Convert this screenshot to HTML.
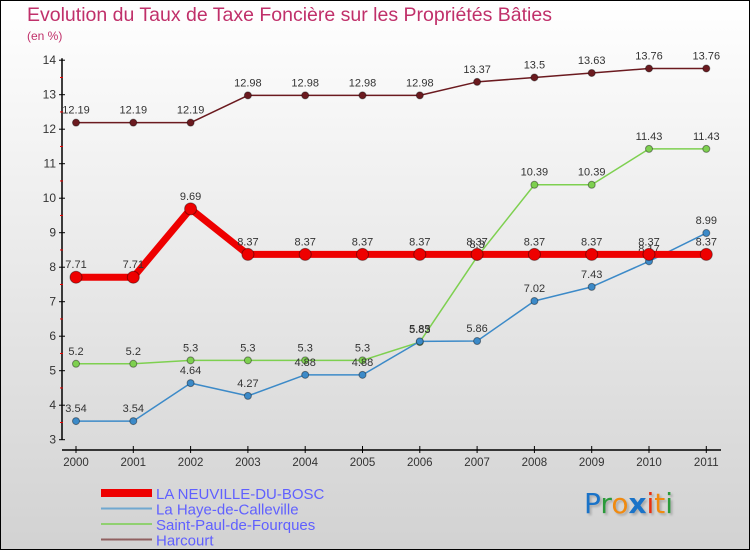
<!DOCTYPE html>
<html><head><meta charset="utf-8"><style>
body{margin:0;}
#wrap{position:relative;width:748px;height:548px;border:1px solid #000;background:linear-gradient(#ffffff,#d2d2d2);font-family:"Liberation Sans",sans-serif;overflow:hidden;}
.t{position:absolute;}
</style></head><body>
<div id="wrap">
<div class="t" style="left:26px;top:3px;font-size:19.5px;color:#c0306a;">Evolution du Taux de Taxe Foncière sur les Propriétés Bâties</div>
<div class="t" style="left:26px;top:28px;font-size:12px;color:#c0306a;">(en %)</div>
<svg id="svg" width="748" height="548" style="position:absolute;left:0;top:0"></svg>
<div class="t" style="left:583px;top:486px;font-size:28px;font-family:'DejaVu Sans',sans-serif;text-shadow:2px 2px 2px #aaa;"><span style="color:#1a73c8">P</span><span style="color:#2a9a3a">r</span><span style="color:#f08a10">o</span><span style="color:#1a73c8;font-weight:bold">x</span><span style="color:#e83010">i</span><span style="color:#f08a10">t</span><span style="color:#2a9a3a">i</span></div>
</div>
<script>
const years=[2000,2001,2002,2003,2004,2005,2006,2007,2008,2009,2010,2011];
const yTicks=[3,4,5,6,7,8,9,10,11,12,13,14];
const neuville=[7.71,7.71,9.69,8.37,8.37,8.37,8.37,8.37,8.37,8.37,8.37,8.37];
const haye=[3.54,3.54,4.64,4.27,4.88,4.88,5.85,5.86,7.02,7.43,8.17,8.99];
const stpaul=[5.2,5.2,5.3,5.3,5.3,5.3,5.83,8.3,10.39,10.39,11.43,11.43];
const harcourt=[12.19,12.19,12.19,12.98,12.98,12.98,12.98,13.37,13.5,13.63,13.76,13.76];
const X=i=>75+i*57.3;
const Y=v=>438.7-(v-3)*34.5;
const svg=document.getElementById('svg');
const NS='http://www.w3.org/2000/svg';
function mk(tag,a){const e=document.createElementNS(NS,tag);for(const k in a)e.setAttribute(k,a[k]);svg.appendChild(e);return e;}
let e;
e=mk('line',{x1:61,y1:Y(14)-2,x2:61,y2:Y(3),stroke:'#000','stroke-width':1.5});


e=mk('line',{x1:61,y1:449,x2:720,y2:449,stroke:'#000','stroke-width':1.5});


yTicks.forEach(v=>{
 mk('line',{x1:58,y1:Y(v),x2:64,y2:Y(v),stroke:'#000'});
 if(v<14){mk('line',{x1:59,y1:Y(v+0.5),x2:62,y2:Y(v+0.5),stroke:'#e00'});}
 const t=mk('text',{x:55,y:Y(v)+4,'text-anchor':'end','font-size':12,fill:'#333'});t.textContent=v;
 
 
});
years.forEach((y,i)=>{
 mk('line',{x1:X(i),y1:445,x2:X(i),y2:452,stroke:'#000'});
 const t=mk('text',{x:X(i),y:465,'text-anchor':'middle','font-size':11.5,fill:'#333'});t.textContent=y;
 
 
});
function series(data,color,lw,r,name){
 const p=data.map((v,i)=>X(i)+','+Y(v)).join(' ');
 const l=mk('polyline',{points:p,fill:'none',stroke:color,'stroke-width':lw,'stroke-linejoin':'round'});
 
 
 data.forEach((v,i)=>{
  const c=mk('circle',{cx:X(i),cy:Y(v),r:r,fill:color,stroke:'rgba(0,0,0,0.4)','stroke-width':1});
  
  
  const t=mk('text',{x:X(i),y:Y(v)-9,'text-anchor':'middle','font-size':11,fill:'#333'});t.textContent=v;
  
  
 });
}
series(harcourt,'#6b1a1f',1.5,3.5,'harcourt');
series(stpaul,'#7ed050',1.5,3.5,'saint-paul');
series(haye,'#3c8ac8',1.5,3.5,'la-haye');
series(neuville,'#ee0000',7,6,'la-neuville');
const leg=[['LA NEUVILLE-DU-BOSC','#ee0000',8],['La Haye-de-Calleville','#70a8d0',2],['Saint-Paul-de-Fourques','#90d070',2],['Harcourt','#906060',2]];
leg.forEach((l,i)=>{
 const y=492+i*15.5;
 const ln=mk('line',{x1:100,y1:y,x2:151,y2:y,stroke:l[1],'stroke-width':l[2]});
 
 
 const t=mk('text',{x:155,y:y+6,'font-size':15,fill:'#6060ff'});t.textContent=l[0];
 
 
});
</script>
</body></html>
